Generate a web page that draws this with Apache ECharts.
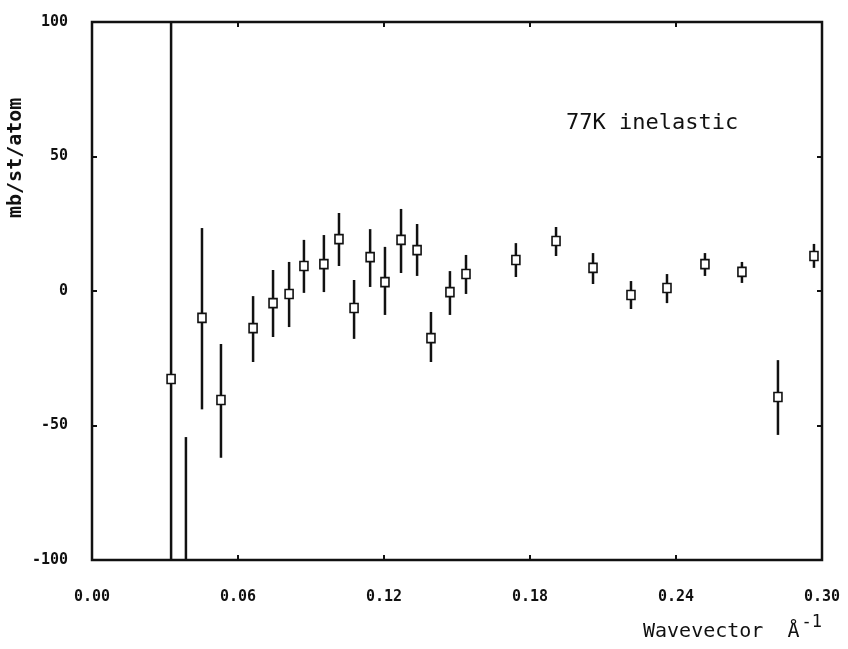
<!DOCTYPE html>
<html>
<head>
<meta charset="utf-8">
<script src="https://cdn.jsdelivr.net/npm/echarts@6/dist/echarts.min.js"></script>
<style>
html,body{margin:0;padding:0;background:#fff;}
#chart{width:848px;height:649px;}
</style>
</head>
<body>
<div id="chart"></div>
<script>
// Wavevector (Å^-1)
var qValues = [0.0325, 0.0386, 0.0452, 0.0530, 0.0662, 0.0744, 0.0810, 0.0871, 0.0953, 0.1015,
               0.1077, 0.1143, 0.1204, 0.1270, 0.1336, 0.1393, 0.1471, 0.1537, 0.1742, 0.1907,
               0.2059, 0.2215, 0.2363, 0.2519, 0.2671, 0.2819, 0.2967];
// cross section (mb/st/atom); null = centre off-scale
var sigma = [-32.7, null, -10.0, -40.5, -13.8, -4.5, -1.1, 9.3, 10.0, 19.3,
             -6.3, 12.6, 3.3, 19.0, 15.2, -17.5, -0.4, 6.3, 11.5, 18.6,
             8.6, -1.5, 1.1, 10.0, 7.1, -39.4, 13.0];
// error bar low / high ends
var errLow = [-100, -100, -44, -62, -26.4, -17.1, -13.4, -0.7, -0.4, 9.3,
              -17.8, 1.5, -8.9, 6.7, 5.6, -26.4, -8.9, -1.1, 5.2, 13.0,
              2.6, -6.7, -4.5, 5.6, 3.0, -53.5, 8.6];
var errHigh = [100, -54.3, 23.4, -19.7, -1.9, 7.8, 10.8, 19.0, 20.8, 29.0,
               4.1, 23.0, 16.4, 30.5, 24.9, -7.8, 7.4, 13.4, 17.8, 23.8,
               14.1, 3.7, 6.3, 14.1, 10.8, -25.7, 17.5];
var xTicks = [0.00, 0.06, 0.12, 0.18, 0.24, 0.30];
var yTicks = [-100, -50, 0, 50, 100];

var data = qValues.map(function (q, i) { return [q, sigma[i], errLow[i], errHigh[i]]; });

var FONT = '"DejaVu Sans Mono", monospace';
var tickStyle = {show: true, inside: true, length: 5, lineStyle: {color: '#111', width: 2}};
var chart = echarts.init(document.getElementById('chart'), null, {renderer: 'canvas'});
chart.setOption({
  animation: false,
  backgroundColor: '#fff',
  grid: {left: 92, right: 26, top: 22, bottom: 89, show: true, borderColor: '#111', borderWidth: 2.5, backgroundColor: 'transparent'},
  xAxis: [{
    type: 'value', min: xTicks[0], max: xTicks[xTicks.length - 1], interval: 0.06, position: 'bottom',
    axisLine: {show: false, onZero: false},
    axisTick: tickStyle,
    splitLine: {show: false},
    axisLabel: {margin: 30, color: '#111', fontFamily: FONT, fontWeight: 'bold', fontSize: 15,
      formatter: function (v) { return v.toFixed(2); }}
  }, {
    type: 'value', min: xTicks[0], max: xTicks[xTicks.length - 1], interval: 0.06, position: 'top',
    axisLine: {show: false, onZero: false},
    axisTick: tickStyle,
    splitLine: {show: false}, axisLabel: {show: false}
  }],
  yAxis: [{
    type: 'value', min: yTicks[0], max: yTicks[yTicks.length - 1], interval: 50, position: 'left',
    axisLine: {show: false, onZero: false},
    axisTick: tickStyle,
    splitLine: {show: false},
    axisLabel: {margin: 24, color: '#111', fontFamily: FONT, fontWeight: 'bold', fontSize: 15}
  }, {
    type: 'value', min: yTicks[0], max: yTicks[yTicks.length - 1], interval: 50, position: 'right',
    axisLine: {show: false, onZero: false},
    axisTick: tickStyle,
    splitLine: {show: false}, axisLabel: {show: false}
  }],
  series: [{
    type: 'custom',
    clip: true,
    data: data,
    encode: {x: 0, y: 1},
    renderItem: function (params, api) {
      var q = api.value(0);
      var lo = api.coord([q, api.value(2)]);
      var hi = api.coord([q, api.value(3)]);
      var children = [{
        type: 'line',
        shape: {x1: lo[0], y1: lo[1], x2: hi[0], y2: hi[1]},
        style: {stroke: '#111', lineWidth: 2.5}
      }];
      var yv = sigma[params.dataIndex];
      if (yv !== null) {
        var c = api.coord([q, yv]);
        children.push({
          type: 'rect',
          shape: {x: c[0] - 4, y: c[1] - 4.5, width: 8, height: 9},
          style: {fill: '#fff', stroke: '#111', lineWidth: 1.6}
        });
      }
      return {type: 'group', children: children};
    }
  }],
  graphic: [{
    type: 'text', left: 566, top: 112,
    style: {text: '77K inelastic', font: '22px ' + FONT, fill: '#111'}
  }, {
    type: 'text', x: 6, y: 218, rotation: Math.PI / 2,
    style: {text: 'mb/st/atom', font: 'bold 20px ' + FONT, fill: '#111', textAlign: 'left', textVerticalAlign: 'top'}
  }, {
    type: 'text', left: 643, top: 614,
    style: {
      text: '{a|Wavevector  Å}{s|-1}',
      rich: {
        a: {font: '20px ' + FONT, fill: '#111', verticalAlign: 'bottom', lineHeight: 28},
        s: {font: '17px ' + FONT, fill: '#111', verticalAlign: 'top', lineHeight: 28, padding: [0, 0, 12, 2]}
      }
    }
  }]
});
</script>
</body>
</html>
